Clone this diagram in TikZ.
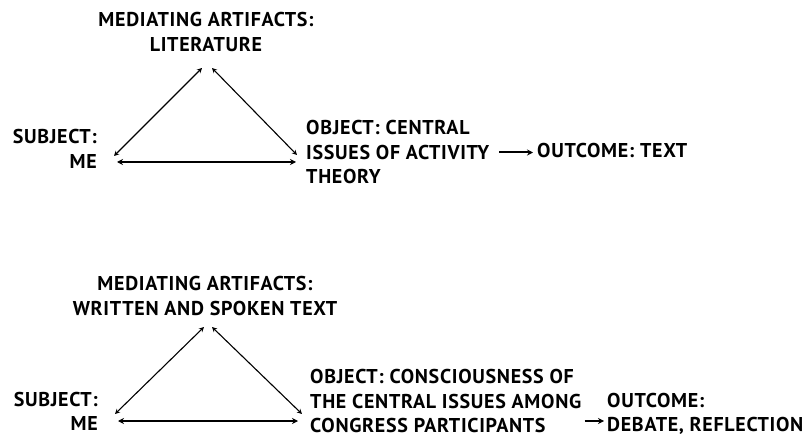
\documentclass[tikz,border=0pt]{standalone}
\usepackage{fontspec}
\setmainfont{PT Sans}[LetterSpace=3.5]
\usetikzlibrary{arrows.meta}

\tikzset{
  label/.style={inner sep=0pt, font=\bfseries\fontsize{20}{24.5}\selectfont},
  thinarrow/.style={{Stealth[length=5pt,width=5pt]}-{Stealth[length=5pt,width=5pt]}, line width=1.1pt},
  basearrow/.style={{Stealth[length=6pt,width=6pt]}-{Stealth[length=6pt,width=6pt]}, line width=2pt},
  outarrow/.style={-{Stealth[length=6pt,width=6pt]}, line width=2pt}
}

\begin{document}
\begin{tikzpicture}[x=1pt, y=-1pt]
  \useasboundingbox (0,0) rectangle (811,438);

  % First triangle
  \node[label, align=center] (med1) at (206,32) {MEDIATING ARTIFACTS:\\LITERATURE};
  \node[label, align=right, anchor=east] (subj1) at (97,149) {SUBJECT:\\ME};
  \node[label, align=left, anchor=west] (obj1) at (306,152.5) {OBJECT: CENTRAL\\ISSUES OF ACTIVITY\\THEORY};
  \node[label, anchor=west] (out1) at (537,151) {OUTCOME: TEXT};

  \coordinate (a1l) at (202,68);
  \coordinate (a1r) at (212,68);
  \coordinate (s1d) at (114,156);
  \coordinate (o1d) at (297,155);
  \coordinate (s1h) at (117,162);
  \coordinate (o1h) at (296,162);

  \draw[thinarrow] (s1d) -- (a1l);
  \draw[thinarrow] (o1d) -- (a1r);
  \draw[basearrow] (s1h) -- (o1h);
  \draw[outarrow, shorten <=10pt, shorten >=4pt] (obj1.east) -- (obj1.east -| out1.west);

  % Second triangle
  \node[label, align=center] (med2) at (205,296) {MEDIATING ARTIFACTS:\\WRITTEN AND SPOKEN TEXT};
  \node[label, align=right, anchor=east] (subj2) at (98,411.5) {SUBJECT:\\ME};
  \node[label, align=left, anchor=west] (obj2) at (310,401) {OBJECT: CONSCIOUSNESS OF\\THE CENTRAL ISSUES AMONG\\CONGRESS PARTICIPANTS};
  \node[label, align=left, anchor=west] (out2) at (607,414) {OUTCOME:\\DEBATE, REFLECTION};

  \coordinate (a2l) at (204,327);
  \coordinate (a2r) at (212,327);
  \coordinate (s2d) at (115,414);
  \coordinate (o2d) at (302,414);
  \coordinate (s2h) at (118,421);
  \coordinate (o2h) at (298,421);
  \path ([yshift=-7pt]out2.west) coordinate (o2tip);

  \draw[thinarrow] (s2d) -- (a2l);
  \draw[thinarrow] (o2d) -- (a2r);
  \draw[basearrow] (s2h) -- (o2h);
  \draw[outarrow, shorten <=3pt, shorten >=3pt] (obj2.east |- o2tip) -- (o2tip);

\end{tikzpicture}
\end{document}
